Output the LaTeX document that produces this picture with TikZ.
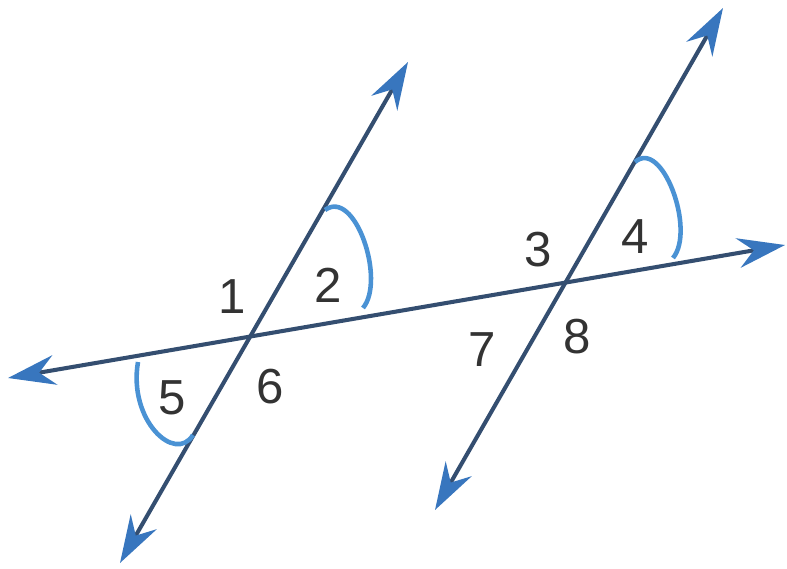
\documentclass[tikz,border=0pt]{standalone}
\usepackage{fontspec}
\setmainfont{Liberation Sans}
\usetikzlibrary{arrows.meta}
\definecolor{linecol}{RGB}{52,78,112}
\definecolor{tipcol}{RGB}{56,118,190}
\definecolor{arccol}{RGB}{74,146,212}

\begin{document}
\begin{tikzpicture}[
  x=0.02cm, y=-0.02cm,
  ln/.style={line width=2.3pt, draw=linecol, {Stealth[length=27pt, width=17pt, inset=9pt, color=tipcol]}-{Stealth[length=27pt, width=17pt, inset=9pt, color=tipcol]}},
  angarc/.style={line width=2.6pt, draw=arccol},
  lbl/.style={font=\fontsize{28}{28}\selectfont, text=black!80, inner sep=0pt}
]
  \useasboundingbox (0,0) rectangle (787,568);

  \coordinate (transL) at (8,378);
  \coordinate (transR) at (785,245);
  \coordinate (leftT) at (408,62);
  \coordinate (leftB) at (120,563);
  \coordinate (rightT) at (723,8);
  \coordinate (rightB) at (435,510);

  \draw[ln] (transL) -- (transR);
  \draw[ln] (leftB) -- (leftT);
  \draw[ln] (rightB) -- (rightT);

  \coordinate (arcTwoA) at (325,210);
  \coordinate (arcTwoB) at (363,308);
  \coordinate (arcFourA) at (635,162);
  \coordinate (arcFourB) at (673,258);
  \coordinate (arcFiveA) at (138,362);
  \coordinate (arcFiveB) at (193,435);

  \draw[angarc] (arcTwoA) .. controls (355,188) and (386,280) .. (arcTwoB);
  \draw[angarc] (arcFourA) .. controls (662,138) and (696,230) .. (arcFourB);
  \draw[angarc] (arcFiveA) .. controls (128,420) and (175,464) .. (arcFiveB);

  \node[lbl] (one) at (232,297) {1};
  \node[lbl] (two) at (328,285) {2};
  \node[lbl] (three) at (538,250) {3};
  \node[lbl] (four) at (635,237) {4};
  \node[lbl] (five) at (172,398) {5};
  \node[lbl] (six) at (270,387) {6};
  \node[lbl] (seven) at (482,350) {7};
  \node[lbl] (eight) at (577,337) {8};
\end{tikzpicture}
\end{document}
